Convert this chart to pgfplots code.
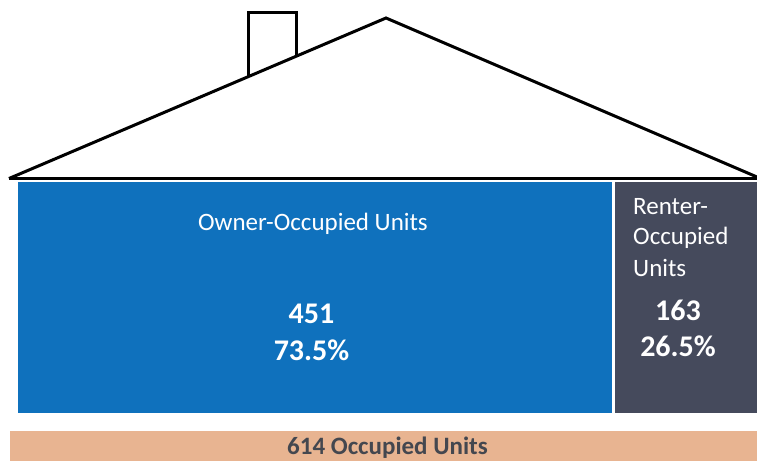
\documentclass[border=0pt]{standalone}
\usepackage{pgfplots}
\pgfplotsset{compat=1.18}
\usepackage{fontspec}
\setmainfont{Carlito}
\definecolor{ownerblue}{HTML}{0F71BD}
\definecolor{rentergray}{HTML}{454A5C}
\definecolor{peach}{HTML}{E8B491}
\definecolor{labelgray}{HTML}{44474F}
\tikzset{
  lbl/.style={font=\fontsize{25}{27}\selectfont, text=white, inner sep=0pt},
  num/.style={font=\fontsize{30}{30}\selectfont\bfseries, text=white, inner sep=0pt},
}
\begin{document}
\begin{tikzpicture}
\path[use as bounding box] (0,0) rectangle (757pt,461pt);
\begin{axis}[
  at={(0,0)}, anchor=south west,
  scale only axis, width=757pt, height=461pt,
  xmin=0, xmax=757, ymin=0, ymax=461, y dir=reverse,
  axis lines=none, clip=true,
]
% bars
\addplot[draw=none, fill=ownerblue] coordinates {(18,182) (612,182) (612,413) (18,413)} -- cycle;
\addplot[draw=none, fill=rentergray] coordinates {(615,182) (757,182) (757,413) (615,413)} -- cycle;
\addplot[draw=none, fill=peach] coordinates {(10,431) (757,431) (757,461) (10,461)} -- cycle;
% house outline
\addplot[black, line width=3pt, line join=miter] coordinates {(9,178.5) (386,18) (757,177)};
\addplot[black, line width=3pt] coordinates {(9,178.5) (757,178.5)};
\addplot[black, line width=3pt, line join=miter] coordinates {(248,76) (248,12) (296,12) (296,56)};
% labels
\node[lbl] at (axis cs:313,224) {Owner-Occupied Units};
\node[num] at (axis cs:311.5,314) {451};
\node[num] at (axis cs:311.5,350) {73.5\%};
\node[lbl, anchor=west] at (axis cs:633,207) {Renter-};
\node[lbl, anchor=west] at (axis cs:633,238) {Occupied};
\node[lbl, anchor=west] at (axis cs:633,268) {Units};
\node[num] at (axis cs:678,310) {163};
\node[num] at (axis cs:678,346) {26.5\%};
\node[font=\fontsize{25}{27}\selectfont\bfseries, text=labelgray, inner sep=0pt] at (axis cs:387.5,448) {614 Occupied Units};
\end{axis}
\end{tikzpicture}
\end{document}
